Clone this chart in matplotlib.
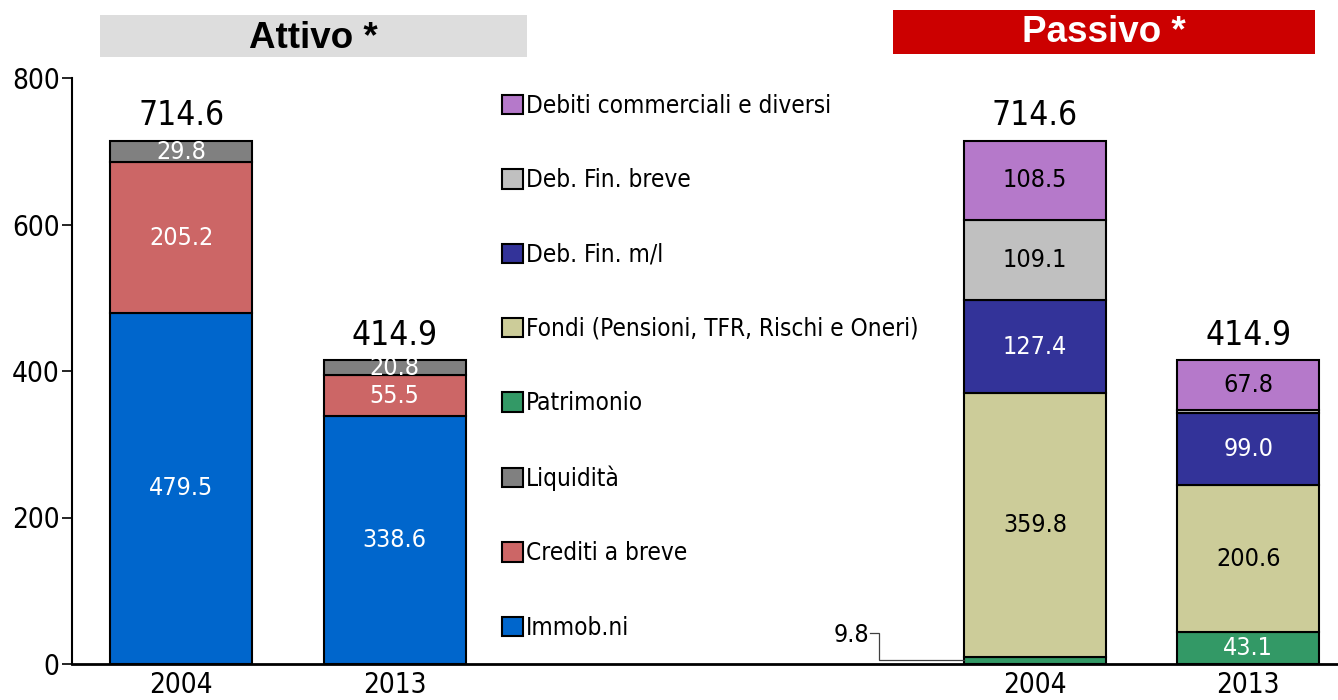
import matplotlib
matplotlib.use("Agg")
import matplotlib.pyplot as plt
from matplotlib.patches import Rectangle
import numpy as np

plt.rcParams['font.family'] = ['DejaVu Sans']
plt.rcParams['font.stretch'] = 'condensed'

# ---------------- data ----------------
years = ["2004", "2013", "2004", "2013"]
positions = [0, 1, 4, 5]

attivo_labels = ["Immob.ni", "Crediti a breve", "Liquidità"]
attivo_immob = [479.5, 338.6]
attivo_crediti = [205.2, 55.5]
attivo_liquidita = [29.8, 20.8]
attivo_totals = [714.6, 414.9]

passivo_labels = ["Patrimonio", "Fondi (Pensioni, TFR, Rischi e Oneri)", "Deb. Fin. m/l",
                  "Deb. Fin. breve", "Debiti commerciali e diversi"]
passivo_patrimonio = [9.8, 43.1]
passivo_fondi = [359.8, 200.6]
passivo_debfin_ml = [127.4, 99.0]
passivo_debfin_breve = [109.1, 4.4]
passivo_debiti_comm = [108.5, 67.8]
passivo_totals = [714.6, 414.9]

colors = {
    "Immob.ni": "#0066CC",
    "Crediti a breve": "#CC6666",
    "Liquidità": "#808080",
    "Patrimonio": "#339966",
    "Fondi (Pensioni, TFR, Rischi e Oneri)": "#CCCC99",
    "Deb. Fin. m/l": "#333399",
    "Deb. Fin. breve": "#C0C0C0",
    "Debiti commerciali e diversi": "#B579CA",
}

# label colors per series (None = no label)
att_txt = ["white", "white", "white"]
pas_txt = [["white", "black", "white", "black", "black"],
           ["white", "black", "white", None, "black"]]

fig = plt.figure(figsize=(13.38, 7), dpi=100)
W, H = 1338, 700
ax = fig.add_axes([72 / W, 36 / H, (W - 72) / W, 586 / H])

bw = 0.665
seg_fs = 18
handles = {}

# Attivo
att_series = [attivo_immob, attivo_crediti, attivo_liquidita]
bottom = np.zeros(2)
for name, vals, tc in zip(attivo_labels, att_series, att_txt):
    b = ax.bar(positions[:2], vals, bw, bottom=bottom, color=colors[name],
               edgecolor="black", linewidth=1.5, label=name, zorder=2)
    handles[name] = b
    for x, v, bt in zip(positions[:2], vals, bottom):
        ax.text(x, bt + v / 2, f"{v:.1f}", ha="center", va="center",
                color=tc, fontsize=seg_fs, zorder=3)
    bottom = bottom + np.array(vals)

# Passivo
pas_series = [passivo_patrimonio, passivo_fondi, passivo_debfin_ml,
              passivo_debfin_breve, passivo_debiti_comm]
bottom = np.zeros(2)
for i, (name, vals) in enumerate(zip(passivo_labels, pas_series)):
    b = ax.bar(positions[2:], vals, bw, bottom=bottom, color=colors[name],
               edgecolor="black", linewidth=1.5, label=name, zorder=2)
    handles[name] = b
    for j, (x, v, bt) in enumerate(zip(positions[2:], vals, bottom)):
        tc = pas_txt[j][i]
        if tc is None:
            continue
        if name == "Patrimonio" and j == 0:
            # small segment: label outside with leader line
            x_edge = x - bw / 2
            y_mid = bt + v / 2
            x_corner = x_edge - 0.40
            ax.plot([x_edge, x_corner, x_corner, x_corner - 0.04],
                    [y_mid, y_mid, 42, 42], color="#404040", lw=0.9, zorder=3,
                    solid_joinstyle="miter")
            ax.text(x_corner - 0.045, 40, f"{v:.1f}", ha="right", va="center",
                    color="black", fontsize=seg_fs)
            continue
        ax.text(x, bt + v / 2, f"{v:.1f}", ha="center", va="center",
                color=tc, fontsize=seg_fs, zorder=3)
    bottom = bottom + np.array(vals)

# totals
for x, t in zip(positions, attivo_totals + passivo_totals):
    ax.annotate(f"{t:.1f}", (x, t), xytext=(0, 6), textcoords="offset points",
                ha="center", va="bottom", fontsize=24, color="black")

ax.set_xlim(-0.511, 5.42)
ax.set_ylim(0, 800)
ax.set_yticks([0, 200, 400, 600, 800])
ax.set_xticks(positions)
ax.set_xticklabels(years)
ax.tick_params(axis="y", labelsize=20, length=7, width=1.2, direction="out", pad=2)
ax.tick_params(axis="x", labelsize=20, length=0, pad=5)
for s in ["top", "right"]:
    ax.spines[s].set_visible(False)
ax.spines["left"].set_linewidth(1.5)
ax.spines["bottom"].set_linewidth(2)
ax.set_facecolor("none")

# legend
order = ["Debiti commerciali e diversi", "Deb. Fin. breve", "Deb. Fin. m/l",
         "Fondi (Pensioni, TFR, Rischi e Oneri)", "Patrimonio", "Liquidità",
         "Crediti a breve", "Immob.ni"]
leg = fig.legend([handles[n] for n in order], order, loc="upper left",
                 bbox_to_anchor=(502 / W, (H - 94) / H), frameon=False,
                 fontsize=17.5, handlelength=0.85, handleheight=0.85,
                 handletextpad=0.12, labelspacing=2.07, borderpad=0,
                 borderaxespad=0)
for p in leg.get_patches():
    p.set_linewidth(1.5)

# header boxes
fig.patches.append(Rectangle((100 / W, (H - 57) / H), 427 / W, 42 / H,
                             transform=fig.transFigure, facecolor="#DDDDDD",
                             edgecolor="none", zorder=0))
fig.text(313 / W, (H - 38) / H, "Attivo *", ha="center", va="center",
         fontsize=26.5, fontweight="bold", family="Liberation Sans", color="black")
fig.patches.append(Rectangle((893 / W, (H - 54) / H), 422 / W, 44 / H,
                             transform=fig.transFigure, facecolor="#CC0000",
                             edgecolor="none", zorder=0))
fig.text(1104 / W, (H - 33) / H, "Passivo *", ha="center", va="center",
         fontsize=26.5, fontweight="bold", family="Liberation Sans", color="white")

fig.savefig("out.png", dpi=100)
